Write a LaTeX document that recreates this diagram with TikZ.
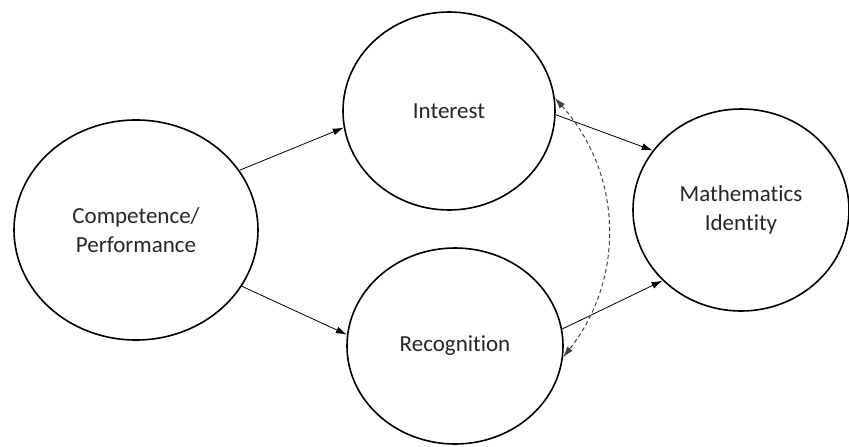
\documentclass[tikz,border=0pt]{standalone}
\usepackage{fontspec}
\setmainfont{Carlito}[Ligatures=NoCommon]
\usepackage{tikz}
\usetikzlibrary{arrows.meta,shapes.geometric}

\tikzset{construct/.style={draw, ellipse, line width=1.6pt, inner sep=0pt, align=center,
  text=black!85, font=\fontsize{23}{29}\selectfont}}

\begin{document}
\begin{tikzpicture}[x=1pt, y=-1pt, >={Latex[length=11pt,width=7pt]}]
\useasboundingbox (0,0) rectangle (849,447);

\draw (136,230) node (comp) [construct, minimum width=244pt, minimum height=220pt] {Competence/\\Performance};
\draw (449,111) node (int)  [construct, minimum width=212pt, minimum height=198pt] {Interest};
\draw (455,346) node (rec)  [construct, minimum width=216pt, minimum height=196pt] {Recognition};
\draw (741,210) node (mid)  [construct, minimum width=216pt, minimum height=202pt] {Mathematics\\Identity};

\draw[->, line width=0.8pt] (comp.30) -- (int.189);
\draw[->, line width=0.8pt] (comp.-28) -- (rec.174);
\draw[->, line width=0.8pt] (int.-2) -- (mid.146.6);
\draw[->, line width=0.8pt] (rec.9.5) -- (mid.222);
\draw[<->, dash pattern=on 4pt off 3pt, line width=1pt, black!75] (int.7) to[bend left=40] (rec.-6);

\end{tikzpicture}
\end{document}
